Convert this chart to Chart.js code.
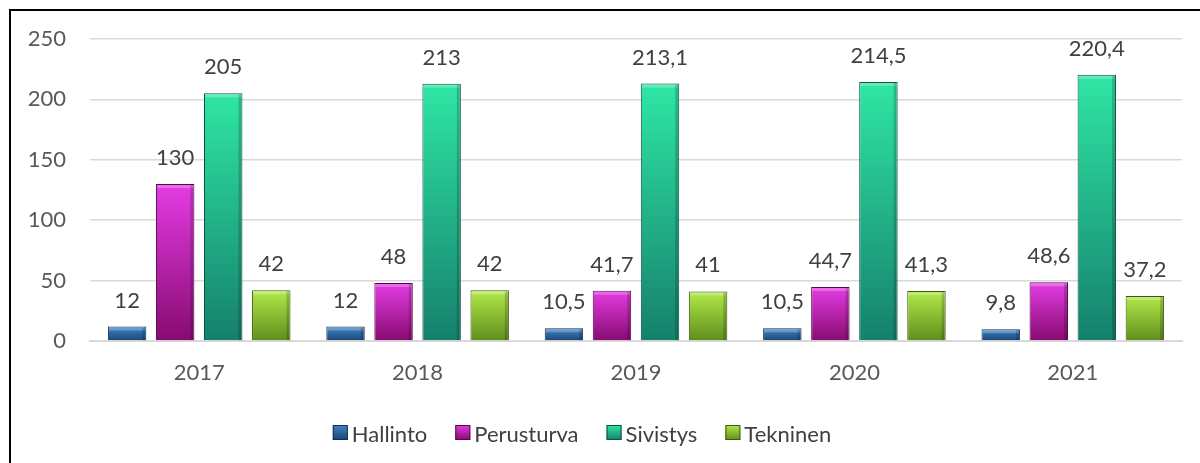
<!DOCTYPE html>
<html>
<head>
<meta charset="utf-8">
<script src="https://cdn.jsdelivr.net/npm/chart.js@4/dist/chart.umd.min.js"></script>
<style>
  html, body { margin: 0; padding: 0; background: #fff; }
  #c { display: block; }
</style>
</head>
<body>
<canvas id="c" width="1200" height="463"></canvas>
<script>
const categories = ['2017', '2018', '2019', '2020', '2021'];
const seriesNames = ['Hallinto', 'Perusturva', 'Sivistys', 'Tekninen'];
const hallinto   = [12, 12, 10.5, 10.5, 9.8];
const perusturva = [130, 48, 41.7, 44.7, 48.6];
const sivistys   = [205, 213, 213.1, 214.5, 220.4];
const tekninen   = [42, 42, 41, 41.3, 37.2];
const yTicks = [0, 50, 100, 150, 200, 250];

const FONT = 'Lato, "Open Sans", sans-serif';
const FS = 22;
const palette = [
  { top: '#3f84c6', bottom: '#1a4674', border: '#10304f' },
  { top: '#e43ce4', bottom: '#870b70', border: '#55074a' },
  { top: '#2fe6a4', bottom: '#15806c', border: '#0b5043' },
  { top: '#b2ea4a', bottom: '#5f8d1c', border: '#3a5a0e' }
];

function fmt(v) { return String(v).replace('.', ','); }

function barGradient(idx) {
  return function(ctx) {
    const chart = ctx.chart;
    const p = palette[idx];
    if (ctx.type !== 'data' || !chart.chartArea || !chart.scales.y) return p.bottom;
    const y = chart.scales.y;
    const yTop = y.getPixelForValue(ctx.parsed.y);
    const yBot = y.getPixelForValue(0);
    if (!(yBot > yTop)) return p.bottom;
    const g = chart.ctx.createLinearGradient(0, yTop, 0, yBot);
    g.addColorStop(0, p.top);
    g.addColorStop(1, p.bottom);
    return g;
  };
}

const datasets = [hallinto, perusturva, sivistys, tekninen].map((d, i) => ({
  label: seriesNames[i],
  data: d,
  backgroundColor: barGradient(i),
  borderColor: palette[i].border,
  borderWidth: 1,
  categoryPercentage: 0.88,
  barPercentage: 0.8
}));

const decorPlugin = {
  id: 'decor',
  afterDatasetsDraw(chart) {
    const c = chart.ctx;
    c.save();
    chart.data.datasets.forEach((ds, di) => {
      const meta = chart.getDatasetMeta(di);
      meta.data.forEach((bar) => {
        const w = bar.width, x0 = bar.x - w / 2, top = bar.y, bot = bar.base;
        c.fillStyle = 'rgba(255,255,255,0.25)';
        c.fillRect(x0 + 1, top + 1, w - 2, Math.min(3, bot - top - 1));
        c.fillStyle = 'rgba(0,0,0,0.18)';
        c.fillRect(x0 + w - 4, top + 1, 3, bot - top - 1);
      });
    });
    c.fillStyle = '#404040';
    c.font = FS + 'px ' + FONT;
    c.textAlign = 'center';
    c.textBaseline = 'alphabetic';
    chart.data.datasets.forEach((ds, di) => {
      const meta = chart.getDatasetMeta(di);
      meta.data.forEach((bar, i) => {
        c.fillText(fmt(ds.data[i]), bar.x, bar.y - 19);
      });
    });
    c.restore();
  },
  afterDraw(chart) {
    const c = chart.ctx;
    c.save();
    c.font = FS + 'px ' + FONT;
    c.textBaseline = 'alphabetic';
    c.textAlign = 'left';
    const box = 15, gapText = 4, gapItem = 28;
    const widths = seriesNames.map(n => c.measureText(n).width);
    const total = widths.reduce((a, w) => a + box + gapText + w, 0) + gapItem * (seriesNames.length - 1);
    let x = 582 - total / 2;
    const baseY = 442;
    seriesNames.forEach((n, i) => {
      const p = palette[i];
      const by = 425;
      const g = c.createLinearGradient(0, by, 0, by + box);
      g.addColorStop(0, p.top);
      g.addColorStop(1, p.bottom);
      c.fillStyle = g;
      c.fillRect(x, by, box, box);
      c.strokeStyle = p.border;
      c.lineWidth = 1;
      c.strokeRect(x + 0.5, by + 0.5, box - 1, box - 1);
      c.fillStyle = '#404040';
      c.fillText(n, x + box + gapText, baseY);
      x += box + gapText + widths[i] + gapItem;
    });
    c.fillStyle = '#000';
    c.fillRect(9, 9, 1191, 2);
    c.fillRect(9, 9, 2, 454);
    c.restore();
  }
};

new Chart(document.getElementById('c'), {
  type: 'bar',
  data: { labels: categories, datasets },
  options: {
    responsive: false,
    animation: false,
    devicePixelRatio: 1,
    layout: { padding: { top: 39, right: 18, left: 0, bottom: 0 } },
    plugins: { legend: { display: false }, tooltip: { enabled: false } },
    scales: {
      x: {
        grid: { display: false, drawTicks: false },
        border: { display: true, color: '#d9d9d9', width: 2 },
        ticks: { color: '#595959', font: { family: FONT, size: FS }, padding: 19 },
        afterFit(s) { s.height = 122; }
      },
      y: {
        min: 0, max: 250,
        afterBuildTicks(s) { s.ticks = yTicks.map(v => ({ value: v })); },
        grid: { color: '#d9d9d9', lineWidth: 1.5, drawTicks: false },
        border: { display: false },
        ticks: { color: '#595959', font: { family: FONT, size: FS }, padding: 24 },
        afterFit(s) { s.width = 90; }
      }
    }
  },
  plugins: [decorPlugin]
});
</script>
</body>
</html>
